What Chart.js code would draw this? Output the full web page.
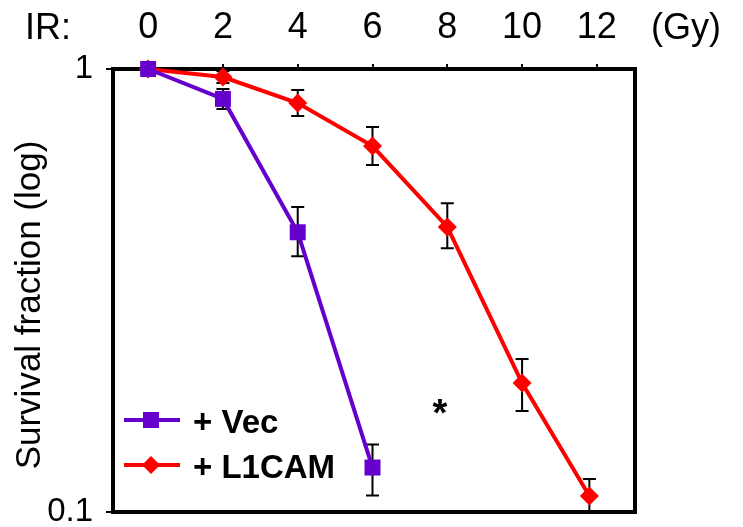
<!DOCTYPE html>
<html><head><meta charset="utf-8">
<script src="https://cdn.jsdelivr.net/npm/chart.js@4"></script>
<style>html,body{margin:0;padding:0;background:#fff}</style>
</head><body>
<canvas id="c" width="743" height="527"></canvas>
<script>
// ---- data ----
const xTicks = [0, 2, 4, 6, 8, 10, 12];
const yTicks = [0.1, 1];
const vecX  = [0, 2, 4, 6];
const vecY  = [1.0, 0.856, 0.428, 0.126];
const vecHi = [1.0, 0.901, 0.488, 0.142];
const vecLo = [1.0, 0.812, 0.378, 0.109];
const l1X  = [0, 2, 4, 6, 8, 10, 11.8];
const l1Y  = [1.0, 0.959, 0.838, 0.670, 0.440, 0.1955, 0.1087];
const l1Hi = [1.0, 0.990, 0.897, 0.740, 0.498, 0.2215, 0.1187];
const l1Lo = [1.0, 0.930, 0.783, 0.607, 0.394, 0.169, 0.0995];
const seriesNames = ['+ Vec', '+ L1CAM'];
const seriesColors = ['#6600CC', '#FF0000'];
const starPos = [7.8, 0.165];

const FONT = "'Liberation Sans', Arial, sans-serif";
Chart.defaults.font.family = FONT;
Chart.defaults.color = '#000';

function pts(xs, ys) { return xs.map((v, i) => ({x: v, y: ys[i]})); }

const extras = {
  id: 'extras',
  beforeDatasetsDraw(chart) {
    const {ctx, chartArea: a, scales: {x, y}} = chart;
    ctx.save();
    // right & bottom frame
    ctx.strokeStyle = '#000'; ctx.lineWidth = 4; ctx.lineCap = 'square';
    ctx.beginPath();
    ctx.moveTo(a.right, a.top); ctx.lineTo(a.right, a.bottom); ctx.lineTo(a.left, a.bottom);
    ctx.stroke();
    // error bars
    ctx.lineWidth = 2; ctx.lineCap = 'butt';
    const bars = (xs, hi, lo) => xs.forEach((v, i) => {
      if (hi[i] === lo[i]) return;
      const px = x.getPixelForValue(v), pt = y.getPixelForValue(hi[i]), pb = y.getPixelForValue(lo[i]);
      ctx.beginPath();
      ctx.moveTo(px, pt); ctx.lineTo(px, pb);
      ctx.moveTo(px - 6.5, pt); ctx.lineTo(px + 6.5, pt);
      ctx.moveTo(px - 6.5, pb); ctx.lineTo(px + 6.5, pb);
      ctx.stroke();
    });
    bars(vecX, vecHi, vecLo);
    bars(l1X, l1Hi, l1Lo);
    ctx.restore();
  },
  afterDraw(chart) {
    const {ctx, chartArea: a, scales: {x, y}} = chart;
    ctx.save();
    ctx.fillStyle = '#000';
    // top labels
    ctx.font = '36px ' + FONT;
    ctx.textAlign = 'center'; ctx.textBaseline = 'middle';
    ctx.fillText('IR:', 48, 29);
    ctx.fillText('(Gy)', 686, 29);
    // y title
    ctx.save();
    ctx.translate(30, 305); ctx.rotate(-Math.PI / 2);
    ctx.font = '35px ' + FONT;
    ctx.fillText('Survival fraction (log)', 0, 0);
    ctx.restore();
    // asterisk
    ctx.font = 'bold 38px ' + FONT;
    ctx.fillText('*', x.getPixelForValue(starPos[0]), y.getPixelForValue(starPos[1]));
    // legend
    const lx0 = a.left + 11, lx1 = a.left + 67, mx = a.left + 38;
    const rows = [420, 465];
    rows.forEach((ly, i) => {
      ctx.strokeStyle = seriesColors[i]; ctx.fillStyle = seriesColors[i]; ctx.lineWidth = 4;
      ctx.beginPath(); ctx.moveTo(lx0, ly); ctx.lineTo(lx1, ly); ctx.stroke();
      if (i === 0) { ctx.fillRect(mx - 8, ly - 8, 16, 16); }
      else { ctx.beginPath(); ctx.moveTo(mx, ly - 9); ctx.lineTo(mx + 9, ly); ctx.lineTo(mx, ly + 9); ctx.lineTo(mx - 9, ly); ctx.closePath(); ctx.fill(); }
      ctx.fillStyle = '#000';
      ctx.font = 'bold 33px ' + FONT;
      ctx.textAlign = 'left';
      ctx.fillText(seriesNames[i], a.left + 80, ly + 4);
    });
    ctx.restore();
  }
};

const zeroPad = s => { s.paddingTop = 0; s.paddingBottom = 0; s.paddingLeft = 0; s.paddingRight = 0; };

new Chart(document.getElementById('c'), {
  type: 'line',
  data: {
    datasets: [
      {label: seriesNames[0], data: pts(vecX, vecY), borderColor: seriesColors[0], backgroundColor: seriesColors[0],
       borderWidth: 4, pointStyle: 'rect', pointRadius: 11.3, pointBorderWidth: 0, tension: 0, clip: false},
      {label: seriesNames[1], data: pts(l1X, l1Y), borderColor: seriesColors[1], backgroundColor: seriesColors[1],
       borderWidth: 4, pointStyle: 'rectRot', pointRadius: 9.5, pointBorderWidth: 0, tension: 0, clip: false}
    ]
  },
  options: {
    responsive: false, animation: false,
    layout: {padding: {left: 0, top: 0, right: 108, bottom: 15}},
    plugins: {legend: {display: false}, tooltip: {enabled: false}},
    scales: {
      x: {
        type: 'linear', position: 'top', min: -0.94, max: 13.02,
        afterBuildTicks: s => { s.ticks = xTicks.map(v => ({value: v})); },
        ticks: {font: {size: 36}, padding: 14, color: '#000', maxRotation: 0, autoSkip: false},
        grid: {drawOnChartArea: false, drawTicks: true, tickLength: 5, color: '#000', lineWidth: 2},
        border: {display: true, color: '#000', width: 4},
        afterFit: s => { s.height = 69; zeroPad(s); }
      },
      y: {
        type: 'logarithmic', min: 0.1, max: 1,
        afterBuildTicks: s => { s.ticks = yTicks.map(v => ({value: v})); },
        ticks: {font: {size: 33}, padding: 13, color: '#000', callback: v => String(v)},
        grid: {drawOnChartArea: false, drawTicks: true, tickLength: 7, color: '#000', lineWidth: 2},
        border: {display: true, color: '#000', width: 4},
        afterFit: s => { s.width = 113; zeroPad(s); }
      }
    }
  },
  plugins: [extras]
});
</script>
</body></html>
